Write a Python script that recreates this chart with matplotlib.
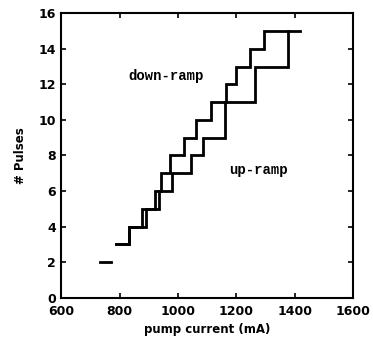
import matplotlib
matplotlib.use("Agg")
import matplotlib.pyplot as plt

# Data
down_x = [787, 831, 877, 920, 940, 971, 1021, 1063, 1113, 1164, 1200, 1246, 1295, 1417]
down_y = [3, 4, 5, 6, 7, 8, 9, 10, 11, 12, 13, 14, 15, 15]
up_x = [787, 831, 889, 935, 978, 1044, 1084, 1160, 1262, 1377, 1377]
up_y = [3, 4, 5, 6, 7, 8, 9, 11, 13, 15, 15]
dash_x = [731, 772]
dash_y = [2, 2]

x_ticks = [600, 800, 1000, 1200, 1400, 1600]
y_ticks = [0, 2, 4, 6, 8, 10, 12, 14, 16]

fig = plt.figure(figsize=(3.73, 3.41), dpi=100)
ax = fig.add_axes([0.1643, 0.127, 0.947 - 0.1643, 0.961 - 0.127])

lw = 2.0
ax.step(down_x, down_y, where="post", color="black", lw=lw, solid_joinstyle="miter")
ax.step(up_x, up_y, where="post", color="black", lw=lw, solid_joinstyle="miter")
ax.plot(dash_x, dash_y, color="black", lw=lw)

ax.set_xlim(600, 1600)
ax.set_ylim(0, 16)
ax.set_xticks(x_ticks)
ax.set_yticks(y_ticks)
ax.tick_params(direction="in", length=3.5, width=1.2, top=True, right=True,
               labelsize=9)
ax.tick_params(axis="x", pad=5)
ax.tick_params(axis="y", pad=4)
for lab in ax.get_xticklabels() + ax.get_yticklabels():
    lab.set_fontweight("bold")
for s in ax.spines.values():
    s.set_linewidth(1.5)

ax.text(960, 12.47, "down-ramp", family="Liberation Mono", fontweight="bold",
        fontsize=10, ha="center", va="center")
ax.text(1275, 7.18, "up-ramp", family="Liberation Mono", fontweight="bold",
        fontsize=10, ha="center", va="center")

ax.set_xlabel("pump current (mA)", fontsize=8.5, fontweight="bold", labelpad=4)
ax.set_ylabel("# Pulses", fontsize=8.5, fontweight="bold", labelpad=8)

fig.savefig("out.png", dpi=100)
